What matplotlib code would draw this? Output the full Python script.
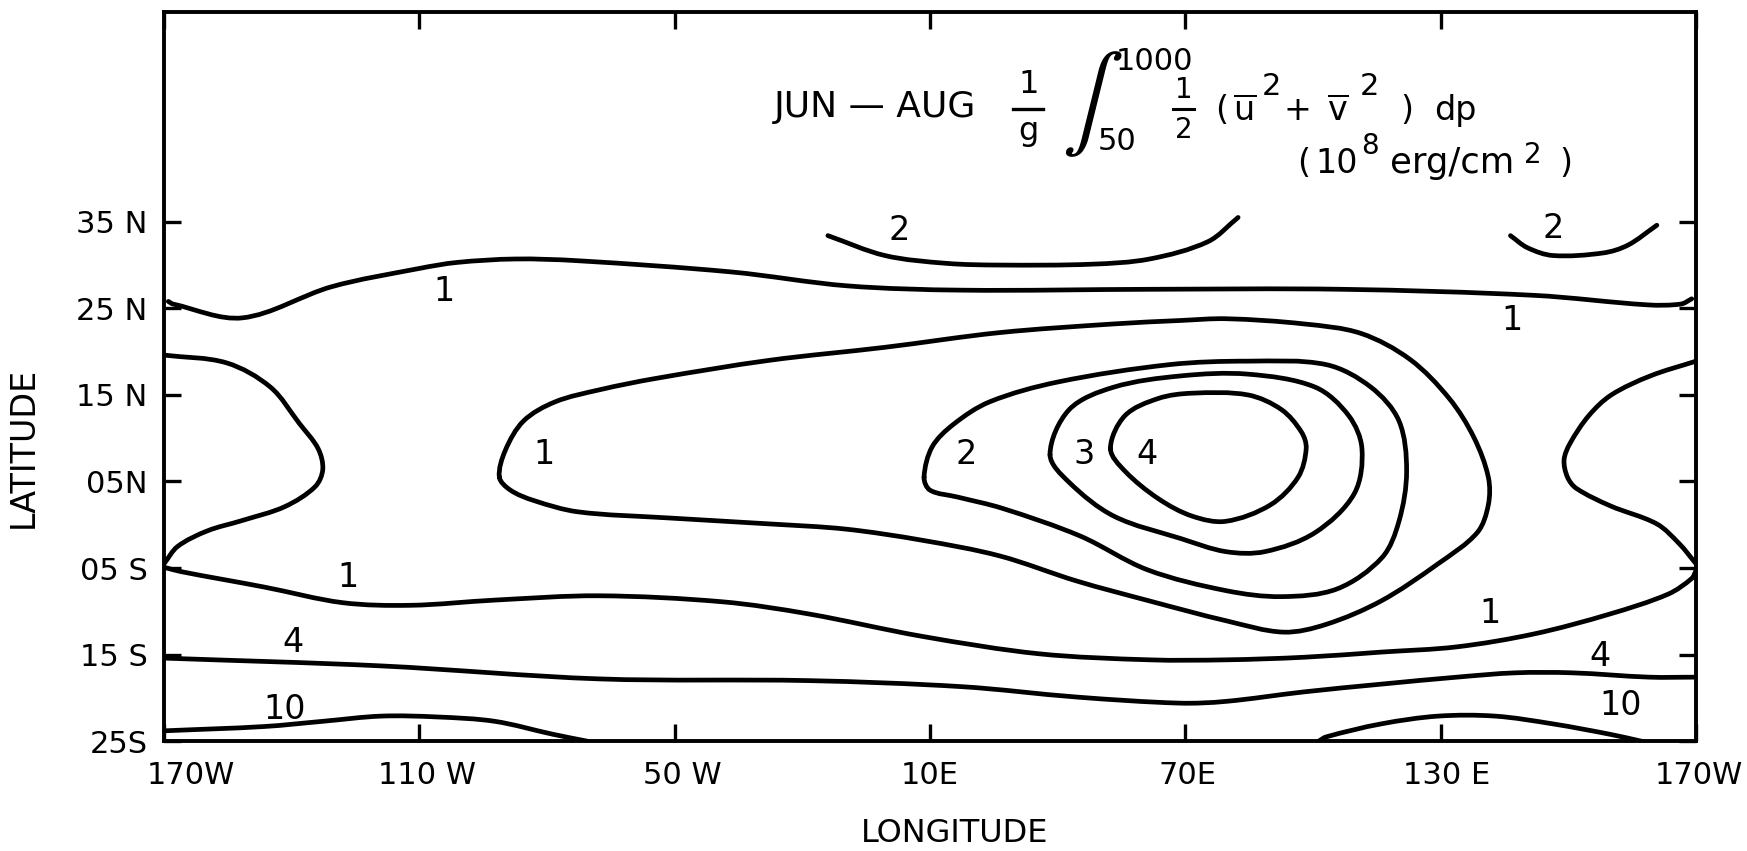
import numpy as np
import matplotlib
matplotlib.use("Agg")
import matplotlib.pyplot as plt
import matplotlib.transforms as mtransforms
from matplotlib.path import Path
from matplotlib.patches import PathPatch

plt.rcParams['font.family'] = ['DejaVu Sans']
plt.rcParams['mathtext.fontset'] = 'dejavusans'

# ---- axis ticks -------------------------------------------------------------
lon_ticks = [-170, -110, -50, 10, 70, 130, 190]
lon_labels = ["170W", "110 W", "50 W", "10E", "70E", "130 E", "170W"]
lat_ticks = [35, 25, 15, 5, -5, -15, -25]
lat_labels = ["35 N", "25 N", "15 N", "05N", "05 S", "15 S", "25S"]

# ---- isolines (longitude in deg east, 190 = 170W; latitude in deg) ----------
# closed ring, value 4
ring4_lon = [52.4, 55.8, 63.7, 71.6, 84.7, 92.6, 97.3, 98.4, 96.5, 90.0, 79.5, 71.6, 63.7, 55.8]
ring4_lat = [8.8, 12.6, 14.6, 15.2, 15.0, 13.3, 10.7, 8.8, 5.5, 2.3, 0.4, 1.0, 3.0, 6.2]
# closed ring, value 3
ring3_lon = [38.2, 42.7, 53.2, 69.0, 84.7, 100.5, 108.4, 111.5, 109.7, 100.5, 88.7, 79.5, 69.0, 53.2, 42.7]
ring3_lat = [8.1, 13.3, 15.9, 17.2, 17.4, 15.9, 12.6, 8.8, 3.6, -0.9, -3.1, -3.1, -1.6, 1.0, 4.9]
# closed ring, value 2
ring2_lon = [8.6, 10.5, 15.5, 24.0, 40.1, 66.3, 84.7, 103.1, 113.6, 120.2, 122.0, 120.2, 116.2,
             105.7, 92.6, 79.5, 61.1, 45.3, 27.0, 16.5, 10.0]
ring2_lat = [5.5, 9.0, 11.6, 14.2, 16.5, 18.5, 18.9, 18.5, 15.9, 12.0, 6.2, 0.4, -3.8,
             -7.4, -8.3, -7.6, -5.2, -1.3, 1.9, 3.2, 4.0]
# closed ring, value 1 (central)
ring1_lon = [-91.2, -89.8, -85.5, -78.1, -67.6, -54.5, -27.7, -0.6, 26.4, 53.2, 69.0, 79.7, 97.9,
             111.3, 122.8, 132.0, 137.8, 141.2, 141.2, 138.6, 129.4, 116.0, 103.1, 93.1, 79.7,
             61.6, 44.5, 26.4, 8.3, -9.8, -27.7, -51.8, -72.8, -83.1, -88.6]
ring1_lat = [5.5, 8.6, 12.0, 14.2, 15.6, 16.9, 19.0, 20.5, 22.2, 23.2, 23.6, 23.8, 23.2,
             22.1, 19.1, 14.6, 10.1, 5.5, 2.3, -0.9, -4.5, -8.8, -11.5, -12.4, -11.1,
             -8.8, -6.5, -3.6, -1.8, -0.5, 0.1, 0.8, 1.5, 2.8, 4.0]
# value 1, lobe west of the date line
lobe_w_lon = [-170.0, -155.3, -145.0, -138.2, -133.8, -132.7, -134.5, -141.6, -151.6, -159.8, -166.8, -170.0]
lobe_w_lat = [19.6, 18.7, 15.9, 11.7, 8.8, 6.4, 4.4, 2.1, 0.5, -0.7, -2.5, -4.5]
# value 1, lobe east of the date line
lobe_e_lon = [190.0, 179.3, 170.1, 164.8, 160.4, 159.0, 159.8, 161.9, 169.8, 180.8, 186.1, 190.0]
lobe_e_lat = [18.9, 17.2, 15.0, 12.6, 9.4, 7.5, 5.5, 4.2, 2.2, 0.1, -2.2, -4.5]
# value 1, northern band
north1_lon = [-169.0, -167.9, -151.6, -130.6, -110.1, -101.2, -87.5, -72.8, -36.6, -9.5, 17.5,
              61.6, 106.8, 152.0, 178.7, 186.5, 189.0]
north1_lat = [25.8, 25.5, 23.9, 27.5, 29.6, 30.3, 30.7, 30.5, 29.2, 27.6, 27.1,
              27.2, 27.2, 26.5, 25.4, 25.5, 26.1]
# value 1, southern band
south1_lon = [-170.0, -166.1, -146.4, -128.0, -112.0, -92.3, -67.8, -38.7, -18.5, 8.3,
              35.6, 61.6, 79.5, 97.9, 116.2, 133.8, 152.0, 169.8, 183.5, 189.0, 190.0]
south1_lat = [-4.9, -5.4, -7.2, -9.0, -9.3, -8.7, -8.2, -8.9, -10.3, -12.9,
              -14.9, -15.6, -15.6, -15.3, -14.7, -14.1, -12.6, -10.3, -8.0, -6.2, -5.3]
# value 2, northern arcs
arc2a_lon = [-14.0, -0.6, 13.8, 26.4, 48.0, 61.6, 75.3, 82.4]
arc2a_lat = [33.4, 31.1, 30.2, 30.0, 30.1, 30.7, 32.7, 35.5]
arc2b_lon = [146.4, 150.4, 156.4, 168.2, 174.0, 180.8]
arc2b_lat = [33.4, 32.0, 31.1, 31.4, 32.3, 34.6]
# value 4, southern band
south4_lon = [-170.0, -119.0, -67.8, -18.5, 17.5, 44.5, 68.7, 79.5, 97.9, 116.2, 133.8, 147.5,
              160.9, 179.0, 190.0]
south4_lat = [-15.4, -16.3, -17.8, -18.0, -18.7, -19.9, -20.6, -20.4, -19.3, -18.4, -17.6, -17.1,
              -17.1, -17.6, -17.6]
# value 10, southern arcs
arc10a_lon = [-170.0, -146.4, -132.7, -119.0, -105.7, -92.3, -78.6, -70.5]
arc10a_lat = [-23.8, -23.3, -22.7, -22.1, -22.2, -22.7, -24.2, -25.0]
arc10b_lon = [101.3, 103.1, 116.0, 129.4, 142.8, 156.4, 169.8, 177.2]
arc10b_lat = [-25.0, -24.5, -23.0, -22.1, -22.1, -23.0, -24.2, -25.0]

closed_lines = [(ring4_lon, ring4_lat), (ring3_lon, ring3_lat),
                (ring2_lon, ring2_lat), (ring1_lon, ring1_lat)]
open_lines = [(lobe_w_lon, lobe_w_lat), (lobe_e_lon, lobe_e_lat),
              (north1_lon, north1_lat), (south1_lon, south1_lat),
              (arc2a_lon, arc2a_lat), (arc2b_lon, arc2b_lat),
              (south4_lon, south4_lat), (arc10a_lon, arc10a_lat),
              (arc10b_lon, arc10b_lat)]

# isoline value labels
label_text = ["1", "1", "1", "1", "1", "2", "3", "4", "2", "2", "4", "4", "10", "10"]
label_lon = [-104.3, 146.7, -80.7, -126.7, 141.5, 18.6, 46.1, 61.1, 2.8, 156.4, -139.8, 167.4, -141.6, 172.2]
label_lat = [26.9, 23.6, 8.1, -6.1, -10.3, 8.1, 8.1, 8.1, 34.0, 34.2, -13.6, -15.2, -21.3, -20.9]


def smooth_path(ax, xs, ys, closed=False):
    """Cubic Bezier path through the vertices (chord-length Catmull-Rom)."""
    p = np.column_stack([xs, ys]).astype(float)
    n = len(p)
    if closed:
        pts = np.vstack([p[-1], p, p[0], p[1]])
        nseg = n
    else:
        pts = np.vstack([p[0], p, p[-1]])
        nseg = n - 1
    px = ax.transData.transform(pts)
    d = np.hypot(*np.diff(px, axis=0).T)  # screen length of each chord
    verts = [pts[1]]
    codes = [Path.MOVETO]
    for i in range(1, nseg + 1):
        p0, p1, p2, p3 = pts[i - 1], pts[i], pts[i + 1], pts[i + 2]
        d01, d12, d23 = d[i - 1], d[i], d[i + 1]
        m1 = (p2 - p0) / max(d01 + d12, 1e-9)
        m2 = (p3 - p1) / max(d12 + d23, 1e-9)
        verts += [p1 + m1 * d12 / 3.0, p2 - m2 * d12 / 3.0, p2]
        codes += [Path.CURVE4] * 3
    return Path(verts, codes)


fig = plt.figure(figsize=(17.47, 8.51), dpi=100)
ax = fig.add_axes([0.0939, 0.1290, 0.8769, 0.8566])
ax.set_xlim(-170, 190)
ax.set_ylim(-25, 59.2)

lw = 3.4
for xs, ys in closed_lines:
    ax.add_patch(PathPatch(smooth_path(ax, xs, ys, closed=True), fill=False,
                           lw=lw, ec="black", capstyle="round", joinstyle="round"))
for xs, ys in open_lines:
    ax.add_patch(PathPatch(smooth_path(ax, xs, ys), fill=False,
                           lw=lw, ec="black", capstyle="round", joinstyle="round"))

for t, x, y in zip(label_text, label_lon, label_lat):
    ax.text(x, y, t, fontsize=24, ha="center", va="center")

# frame and ticks
for s in ax.spines.values():
    s.set_linewidth(2.8)
ax.set_xticks(lon_ticks)
ax.set_xticklabels(lon_labels)
ax.set_yticks(lat_ticks)
ax.set_yticklabels(lat_labels)
ax.tick_params(axis="both", direction="in", length=12, width=2.4,
               top=True, right=True, labelsize=22)
ax.tick_params(axis="x", pad=14)
ax.tick_params(axis="y", pad=12)
# hand-lettered longitude labels sit a little right of their ticks
for tick, dx in zip(ax.xaxis.get_major_ticks(), [0.27, 0.08, 0.08, 0.0, 0.02, 0.06, 0.03]):
    lab = tick.label1
    lab.set_transform(lab.get_transform() + mtransforms.ScaledTranslation(dx, 0, fig.dpi_scale_trans))

ax.set_xlabel("LONGITUDE", fontsize=23, va="center")
ax.set_ylabel("LATITUDE", fontsize=24, va="center")
ax.xaxis.set_label_coords(0.516, -0.127)
ax.yaxis.set_label_coords(-0.092, 0.403)

# header: seasonal vertically integrated kinetic energy of the mean flow
tr = ax.transAxes
def put(x, y, s, size=24, **kw):
    ax.text(x, y, s, transform=tr, fontsize=size, ha=kw.pop("ha", "center"),
            va=kw.pop("va", "center"), **kw)

put(0.3978, 0.870, "JUN \u2014 AUG", size=26, ha="left")
put(0.5644, 0.9006, "1", size=23)
ax.plot([0.5542, 0.5738], [0.867, 0.867], transform=tr, color="black", lw=2.4, clip_on=False)
put(0.5644, 0.8364, "g", size=23)
put(0.6058, 0.8739, r"$\int$", size=66, math_fontfamily="stix")
put(0.6211, 0.9327, "1000", size=22, ha="left")
put(0.6095, 0.8226, "50", size=22, ha="left")
put(0.6655, 0.893, "1", size=20)
ax.plot([0.6585, 0.6720], [0.867, 0.867], transform=tr, color="black", lw=2.2, clip_on=False)
put(0.6655, 0.838, "2", size=20)
base1 = 0.8517
put(0.6902, base1, "(", va="baseline")
put(0.7055, base1, r"$\overline{\mathrm{u}}$", va="baseline")
put(0.7165, 0.8976, "2", size=22, ha="left")
put(0.7396, 0.8654, "+")
put(0.7665, base1, r"$\overline{\mathrm{v}}$", va="baseline")
put(0.7805, 0.8976, "2", size=22, ha="left")
put(0.8109, base1, ")", va="baseline")
put(0.8429, base1, "dp", va="baseline")
base2 = 0.7798
put(0.7440, base2, "(", va="baseline")
put(0.7796, base2, "10", va="baseline", ha="right")
put(0.7811, 0.8165, "8", size=20, ha="left")
put(0.8000, base2, "erg/cm", size=25.5, va="baseline", ha="left")
put(0.8875, 0.8043, "2", size=20, ha="left")
put(0.9150, base2, ")", va="baseline")

fig.savefig("out.png", dpi=100, facecolor="white")
